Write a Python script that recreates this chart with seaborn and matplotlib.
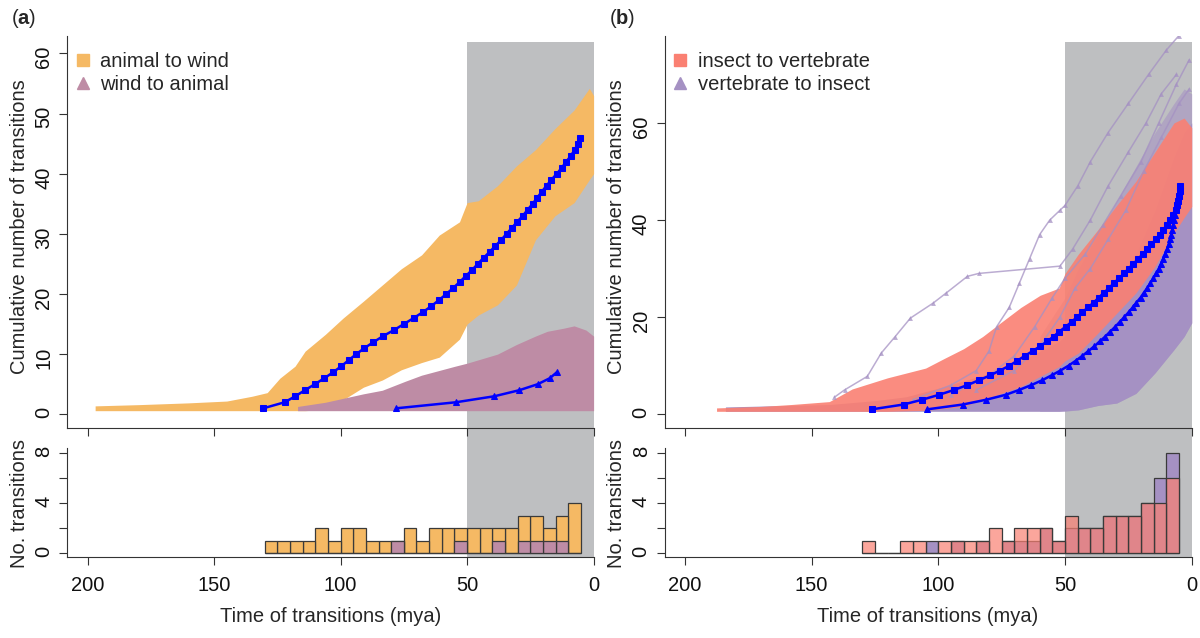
import numpy as np
import pandas as pd
import matplotlib
matplotlib.use("Agg")
import matplotlib.pyplot as plt
import matplotlib.transforms as mtransforms
from matplotlib.patches import Rectangle
from matplotlib.lines import Line2D
import seaborn as sns

sns.set_style("ticks")
plt.rcParams['font.family'] = ['Liberation Sans', 'DejaVu Sans']
plt.rcParams['mathtext.fontset'] = 'custom'
plt.rcParams['mathtext.rm'] = 'Liberation Sans'
plt.rcParams['mathtext.bf'] = 'Liberation Sans:bold'

# ---------------- data: panel a (pollination: animal / wind) ----------------
# observed cumulative curves (blue)
a2w_time = [130.5, 122.1, 117.9, 114.1, 110.2, 106.4, 102.9, 99.7, 96.8, 93.8,
            90.6, 87.0, 83.2, 78.9, 75.0, 71.1, 67.4, 64.1, 61.1, 58.2,
            55.5, 52.9, 50.5, 48.0, 45.8, 43.5, 41.1, 38.8, 36.5, 34.4,
            32.3, 30.2, 28.0, 26.1, 24.1, 22.3, 20.5, 18.6, 16.7, 14.5,
            12.6, 10.8, 9.0, 7.4, 6.2, 5.3]
a2w_cum = [1, 2, 3, 4, 5, 6, 7, 8, 9, 10, 11, 12, 13, 14, 15, 16, 17, 18, 19, 20,
           21, 22, 23, 24, 25, 26, 27, 28, 29, 30, 31, 32, 33, 34, 35, 36, 37, 38,
           39, 40, 41, 42, 43, 44, 45, 46]
w2a_time = [77.9, 54.4, 39.2, 29.4, 22.1, 17.3, 14.5]
w2a_cum = [1, 2, 3, 4, 5, 6, 7]

# envelope of the simulated histories
a2w_env_time = [197, 180, 160, 145, 135, 129, 124, 118, 114, 106, 99, 91, 83.5, 76,
                68, 61, 53, 50, 45.6, 38, 30.5, 23, 15.3, 7.7, 1.7, 0]
a2w_env_hi = [1.4, 1.6, 1.9, 2.2, 3.0, 3.6, 6.0, 8.0, 10.5, 13.3, 16.0, 18.8, 21.5,
              24.2, 26.5, 29.8, 32.0, 35.2, 35.5, 38.0, 41.3, 44.0, 47.5, 50.6, 54.2, 53.0]
a2w_env_lo = [0.6, 0.6, 0.6, 0.6, 0.6, 0.6, 0.6, 0.6, 0.6, 0.8, 2.4, 4.5, 5.7, 7.4,
              8.6, 9.5, 12.5, 15.0, 16.5, 18.2, 21.5, 29.0, 33.0, 35.2, 39.0, 40.0]
w2a_env_time = [117, 106, 91, 83.5, 74.4, 68, 54.7, 50, 38, 30.5, 23, 18.3, 12, 7.7, 3, 0]
w2a_env_hi = [1.3, 2.0, 3.4, 4.0, 5.5, 6.5, 8.0, 8.5, 10.0, 11.6, 13.0, 13.8, 14.3, 14.7, 14.0, 13.0]
w2a_env_lo = [0.6, 0.6, 0.6, 0.6, 0.6, 0.6, 0.6, 0.6, 0.6, 0.6, 0.6, 0.6, 0.6, 0.6, 0.6, 0.6]

# histogram of observed transitions (5 My bins, labelled by older edge)
bin_old_edge = [130, 125, 120, 115, 110, 105, 100, 95, 90, 85, 80, 75, 70, 65, 60,
                55, 50, 45, 40, 35, 30, 25, 20, 15, 10]
a2w_counts = [1, 1, 1, 1, 2, 1, 2, 2, 1, 1, 1, 2, 1, 2, 2, 2, 2, 2, 2, 2, 3, 3, 2, 3, 4]
w2a_counts = [0, 0, 0, 0, 0, 0, 0, 0, 0, 0, 1, 0, 0, 0, 0, 1, 0, 0, 1, 0, 1, 1, 1, 1, 0]

# ---------------- data: panel b (insect / vertebrate) ----------------
i2v_time = [126.3, 113.7, 106.3, 99.7, 93.8, 88.5, 84.0, 79.5, 75.7, 71.9,
            68.9, 65.9, 62.8, 59.8, 57.1, 54.5, 52.3, 49.8, 47.4, 45.3,
            43.2, 40.9, 38.7, 36.7, 34.7, 32.6, 30.7, 28.7, 26.7, 24.9,
            23.0, 21.1, 19.3, 17.5, 15.9, 14.2, 12.7, 11.2, 9.8, 8.5,
            7.3, 6.3, 5.7, 5.3, 5.0, 4.8, 4.7]
i2v_cum = [1, 2, 3, 4, 5, 6, 7, 8, 9, 10, 11, 12, 13, 14, 15, 16, 17, 18, 19, 20,
           21, 22, 23, 24, 25, 26, 27, 28, 29, 30, 31, 32, 33, 34, 35, 36, 37, 38,
           39, 40, 41, 42, 43, 44, 45, 46, 47]
v2i_time = [104.4, 90.3, 81.0, 73.4, 68.1, 63.3, 59.0, 55.3, 51.8, 48.6,
            45.8, 43.2, 40.8, 38.4, 36.3, 34.1, 32.2, 30.2, 28.4, 26.6,
            24.9, 23.3, 21.8, 20.2, 18.9, 17.5, 16.3, 15.1, 14.0, 13.0,
            12.1, 11.2, 10.4, 9.7, 9.1, 8.5, 8.0, 7.6, 7.3, 7.0, 6.6, 6.5]
v2i_cum = [1, 2, 3, 4, 5, 6, 7, 8, 9, 10, 11, 12, 13, 14, 15, 16, 17, 18, 19, 20,
           21, 22, 23, 24, 25, 26, 27, 28, 29, 30, 31, 32, 33, 34, 35, 36, 37, 38,
           39, 40, 41, 42]

i2v_env_time = [187.5, 170, 158, 143, 134, 120, 105, 97.6, 90, 82.5, 75, 67.4, 59.8,
                52.3, 50, 44.7, 37, 29.6, 22, 14.5, 7, 3, 0]
i2v_env_hi = [1.3, 1.6, 2.0, 2.6, 5.2, 7.5, 9.5, 11.5, 13.5, 16.0, 19.0, 22.0, 24.5,
              26.0, 29.0, 33.0, 38.0, 43.0, 48.0, 54.0, 60.0, 61.0, 59.0]
i2v_env_lo = [0.6, 0.6, 0.6, 0.6, 0.6, 0.6, 0.8, 1.2, 1.6, 3.0, 4.3, 5.7, 7.8,
              9.8, 11.0, 12.6, 16.7, 20.8, 25.0, 30.4, 37.3, 40.5, 42.8]
v2i_env_time = [184, 160, 143, 125, 112.7, 97.6, 82.5, 67.4, 52.3, 44.7, 37, 29.6,
                22, 14.5, 7, 3, 0]
v2i_env_hi = [1.5, 1.8, 2.0, 2.8, 3.6, 5.7, 8.0, 11.0, 15.0, 19.0, 23.0, 27.0,
              33.0, 42.0, 53.0, 58.0, 60.0]
v2i_env_lo = [0.6, 0.6, 0.6, 0.6, 0.6, 0.6, 0.6, 0.6, 0.6, 0.9, 1.8, 2.3,
              4.3, 8.5, 13.3, 16.0, 18.8]
# looser outer band of the vertebrate-to-insect histories (recent part)
v2i_outer_time = [60, 50, 44.7, 37, 29.6, 22, 14.5, 7, 3, 0]
v2i_outer_hi = [16, 24, 30, 37, 44, 51, 58, 64, 67, 66]
v2i_outer_lo = [0.6, 0.6, 0.9, 1.8, 2.3, 4.3, 8.5, 13.3, 16.0, 18.8]

# a few outlying simulated histories that leave the main band
v2i_outliers = [
    ([141, 137, 128, 122.5, 117, 111, 102, 96.8, 88.5, 84, 52, 47, 40, 33, 25, 18, 12, 6],
     [3.5, 5, 7.8, 12.6, 16, 19.8, 22.9, 25, 28.4, 29, 30.5, 34, 40, 47, 54, 60, 66, 70]),
    ([110, 95, 85, 80, 77, 72, 68, 64, 60, 56, 52, 50, 45, 40, 33, 25, 17, 10, 5],
     [3, 6, 9, 13, 18, 22, 27, 32, 37, 40, 42, 43, 47, 52, 58, 64, 70, 75, 78]),
    ([95, 80, 70, 62, 55, 50, 42, 35, 28, 20, 13, 6, 1],
     [4, 8, 12, 18, 24, 28, 33, 39, 45, 52, 60, 68, 73]),
    ([85, 70, 60, 52, 46, 40, 33, 26, 19, 12, 5, 1],
     [5, 9, 14, 20, 26, 30, 36, 42, 50, 57, 64, 67]),
]

i2v_counts = [1, 0, 0, 1, 1, 0, 1, 1, 1, 1, 2, 1, 2, 2, 2, 1, 3, 2, 2, 3, 3, 3, 4, 4, 6]
v2i_counts = [0, 0, 0, 0, 0, 1, 0, 1, 0, 1, 0, 1, 1, 1, 2, 1, 2, 2, 2, 3, 3, 3, 4, 6, 8]

# ---------------- styling ----------------
W, H = 1200, 638
fig = plt.figure(figsize=(W / 100, H / 100), dpi=100)

c_orange = '#F5B964'
c_pink = '#BE8CA5'
c_salmon = '#FA8072'
c_purple = '#A591C3'
c_gray = '#BEBFC1'
c_axis = '#333333'
FS = 14.5
FS_TICK = 14.5

BINW = 5


def px(x0, y0, x1, y1):
    # pixel box (left, top, right, bottom) -> figure rect
    return [x0 / W, 1 - y1 / H, (x1 - x0) / W, (y1 - y0) / H]


def style_axis(ax):
    for s in ['top', 'right']:
        ax.spines[s].set_visible(False)
    for s in ['left', 'bottom']:
        ax.spines[s].set_color(c_axis)
        ax.spines[s].set_linewidth(0.8)
    ax.set_facecolor('none')
    ax.tick_params(direction='out', length=6, width=0.8, color=c_axis,
                   labelsize=FS_TICK, labelcolor='#111111')
    ax.tick_params(axis='y', labelrotation=90, pad=4)
    ax.set_xlim(208, 0)
    ax.set_xticks([200, 150, 100, 50, 0])
    ax.set_xlabel('')
    ax.set_ylabel('')


def draw_hist(ax, counts, color, alpha):
    mids = [b - BINW / 2 for b in bin_old_edge]
    sns.histplot(x=mids, weights=counts, binwidth=BINW,
                 binrange=(min(bin_old_edge) - BINW, max(bin_old_edge)),
                 color=color, alpha=alpha, edgecolor='#3a3a3a', linewidth=0.9,
                 ax=ax)


panels = [
    dict(left=67.3, right=593.6, letter='a', ylim=(-2.33, 62.9), yticks=[0, 10, 20, 30, 40, 50, 60],
         clouds=[(a2w_env_time, a2w_env_lo, a2w_env_hi, c_orange, 1.0),
                 (w2a_env_time, w2a_env_lo, w2a_env_hi, c_pink, 1.0)],
         outliers=[], sq=(a2w_time, a2w_cum), tri=(w2a_time, w2a_cum),
         hists=[(a2w_counts, c_orange, 1.0), (w2a_counts, c_pink, 1.0)],
         legend=[('animal to wind', 's', c_orange), ('wind to animal', '^', c_pink)]),
    dict(left=664.6, right=1191.7, letter='b', ylim=(-2.9, 77.9), yticks=[0, 20, 40, 60],
         clouds=[(v2i_outer_time, v2i_outer_lo, v2i_outer_hi, c_purple, 0.55),
                 (v2i_env_time, v2i_env_lo, v2i_env_hi, c_purple, 1.0),
                 (i2v_env_time, i2v_env_lo, i2v_env_hi, c_salmon, 0.9)],
         outliers=v2i_outliers, sq=(i2v_time, i2v_cum), tri=(v2i_time, v2i_cum),
         hists=[(v2i_counts, c_purple, 1.0), (i2v_counts, c_salmon, 0.7)],
         legend=[('insect to vertebrate', 's', c_salmon), ('vertebrate to insect', '^', c_purple)]),
]

for p in panels:
    ax = fig.add_axes(px(p['left'], 36, p['right'], 428.3))
    axh = fig.add_axes(px(p['left'], 448, p['right'], 556.7))

    # shaded last 50 My, spanning both the curve and the histogram panel
    tr = mtransforms.blended_transform_factory(ax.transData, fig.transFigure)
    fig.patches.append(Rectangle((50, 1 - 556.7 / H), -50, (556.7 - 42) / H,
                                 transform=tr, facecolor=c_gray, edgecolor='none',
                                 zorder=-5))

    for t, lo, hi, col, al in p['clouds']:
        ax.fill_between(t, lo, hi, color=col, alpha=al, linewidth=0, zorder=1)
    for t, y in p['outliers']:
        ax.plot(t, y, color=c_purple, alpha=0.75, lw=1.1, marker='^', ms=3.5,
                mec='none', zorder=2)

    sns.lineplot(x=p['sq'][0], y=p['sq'][1], ax=ax, color='blue', lw=1.8,
                 marker='s', markersize=4, markeredgecolor='blue', sort=False,
                 estimator=None, zorder=5)
    sns.lineplot(x=p['tri'][0], y=p['tri'][1], ax=ax, color='blue', lw=1.8,
                 marker='^', markersize=5, markeredgecolor='blue', sort=False,
                 estimator=None, zorder=5)

    style_axis(ax)
    ax.set_ylim(*p['ylim'])
    ax.set_yticks(p['yticks'])
    ax.set_xticklabels([])

    handles = [Line2D([], [], marker=m, color=c, linestyle='None', markersize=9)
               for _, m, c in p['legend']]
    ax.legend(handles, [l for l, _, _ in p['legend']], loc='upper left',
              frameon=False, fontsize=FS, handlelength=0.8, handletextpad=0.45,
              labelspacing=0.2, borderaxespad=0.3, bbox_to_anchor=(-0.012, 0.995))

    for counts, col, al in p['hists']:
        draw_hist(axh, counts, col, al)
    style_axis(axh)
    axh.set_ylim(-0.27, 8.4)
    axh.set_yticks([0, 2, 4, 6, 8])
    axh.set_yticklabels(['0', '', '4', '', '8'])
    axh.tick_params(axis='x', pad=8)

    L = p['left']
    fig.text((L - 48) / W, 1 - 227 / H, 'Cumulative number of transitions',
             rotation=90, ha='center', va='center', fontsize=FS)
    fig.text((L - 48) / W, 1 - 504 / H, 'No. transitions',
             rotation=90, ha='center', va='center', fontsize=FS)
    fig.text((L + 263) / W, 1 - 617 / H, 'Time of transitions (mya)',
             ha='center', va='center', fontsize=FS)
    fig.text((L - 56) / W, 1 - 19 / H, '($\\mathbf{%s}$)' % p['letter'],
             ha='left', va='center', fontsize=FS)

fig.savefig('out.png', dpi=100)
